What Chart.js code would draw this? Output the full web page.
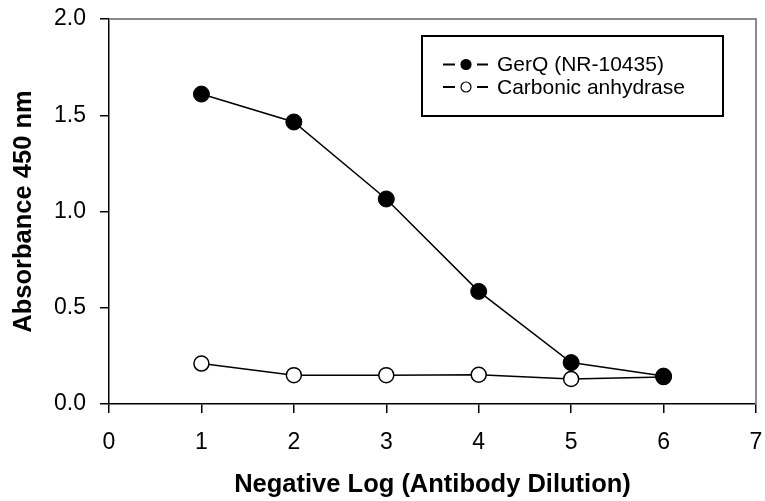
<!DOCTYPE html>
<html>
<head>
<meta charset="utf-8">
<script src="https://cdn.jsdelivr.net/npm/chart.js@4.4.0/dist/chart.umd.min.js"></script>
<style>
  html, body { margin: 0; padding: 0; background: #fff; }
  #wrap { width: 765px; height: 501px; }
</style>
</head>
<body>
<div id="wrap"><canvas id="absChart" width="765" height="501"></canvas></div>
<script>
// --- data ---
const dilutions = [1, 2, 3, 4, 5, 6];
const gerqValues = [1.61, 1.465, 1.065, 0.585, 0.215, 0.145];
const carbonicValues = [0.21, 0.15, 0.15, 0.152, 0.13, 0.14];
const seriesNames = ['GerQ (NR-10435)', 'Carbonic anhydrase'];
const xTickRange = [0, 7];
const yTickRange = [0, 2];

const FONT = '"Liberation Sans", Arial, sans-serif';

const toPoints = (vals) => dilutions.map((x, i) => ({ x: x, y: vals[i] }));

// gray frame on top/right + boxed legend inside the plot
const framePlugin = {
    id: 'frame',
    beforeDatasetsDraw(chart) {
        const { ctx, chartArea: a } = chart;
        ctx.save();
        ctx.strokeStyle = '#8a8a8a';
        ctx.lineWidth = 2;
        ctx.beginPath();
        ctx.moveTo(a.left, a.top);
        ctx.lineTo(a.right, a.top);
        ctx.lineTo(a.right, a.bottom);
        ctx.stroke();
        ctx.restore();
    },
    afterDraw(chart) {
        const ctx = chart.ctx;
        ctx.save();
        ctx.strokeStyle = '#000';
        ctx.lineWidth = 2;
        ctx.fillStyle = '#fff';
        ctx.fillRect(422, 36, 301, 80);
        ctx.strokeRect(422, 36, 301, 80);

        const rows = [64.5, 87];
        chart.data.datasets.forEach((ds, i) => {
            const y = rows[i];
            ctx.lineWidth = 2.2;
            ctx.strokeStyle = '#000';
            ctx.beginPath();
            ctx.moveTo(443, y); ctx.lineTo(455, y);
            ctx.moveTo(477, y); ctx.lineTo(488, y);
            ctx.stroke();
            ctx.beginPath();
            ctx.arc(466, y, 5, 0, Math.PI * 2);
            ctx.fillStyle = ds.pointBackgroundColor;
            ctx.fill();
            ctx.lineWidth = 1.2;
            ctx.stroke();
            ctx.fillStyle = '#000';
            ctx.font = '21px ' + FONT;
            ctx.textBaseline = 'middle';
            ctx.fillText(ds.label, 497, y + 1);
        });
        ctx.restore();
    }
};

new Chart(document.getElementById('absChart'), {
    type: 'scatter',
    data: {
        datasets: [
            {
                label: seriesNames[0],
                data: toPoints(gerqValues),
                showLine: true,
                borderColor: '#000',
                borderWidth: 1.5,
                pointRadius: 8,
                pointBackgroundColor: '#000',
                pointBorderColor: '#000',
                pointBorderWidth: 1
            },
            {
                label: seriesNames[1],
                data: toPoints(carbonicValues),
                showLine: true,
                borderColor: '#000',
                borderWidth: 1.5,
                pointRadius: 7.5,
                pointBackgroundColor: '#fff',
                pointBorderColor: '#000',
                pointBorderWidth: 1.5
            }
        ]
    },
    options: {
        responsive: false,
        devicePixelRatio: 1,
        animation: false,
        layout: { padding: { left: 0, top: 19, right: 3, bottom: 0 } },
        plugins: { legend: { display: false }, tooltip: { enabled: false } },
        scales: {
            x: {
                type: 'linear',
                min: xTickRange[0],
                max: xTickRange[1],
                afterFit: (s) => { s.height = 97; s.paddingLeft = 0; s.paddingRight = 0; },
                ticks: { stepSize: 1, color: '#000', padding: 16, font: { family: FONT, size: 23 } },
                grid: { drawOnChartArea: false, tickLength: 9, color: '#000', lineWidth: 1.5 },
                border: { color: '#000', width: 1.5 },
                title: {
                    display: true,
                    text: 'Negative Log (Antibody Dilution)',
                    color: '#000',
                    font: { family: FONT, size: 25.5, weight: 'bold' },
                    padding: { top: 0, bottom: 1 }
                }
            },
            y: {
                type: 'linear',
                min: yTickRange[0],
                max: yTickRange[1],
                afterFit: (s) => { s.width = 109; s.paddingTop = 0; s.paddingBottom = 0; },
                ticks: {
                    stepSize: 0.5,
                    color: '#000',
                    padding: 14,
                    font: { family: FONT, size: 23 },
                    callback: (v) => v.toFixed(1)
                },
                grid: { drawOnChartArea: false, tickLength: 9, color: '#000', lineWidth: 1.5 },
                border: { color: '#000', width: 1.5 },
                title: {
                    display: true,
                    text: 'Absorbance 450 nm',
                    color: '#000',
                    font: { family: FONT, size: 25.5, weight: 'bold' },
                    padding: { top: 9, bottom: 0 }
                }
            }
        }
    },
    plugins: [framePlugin]
});
</script>
</body>
</html>
